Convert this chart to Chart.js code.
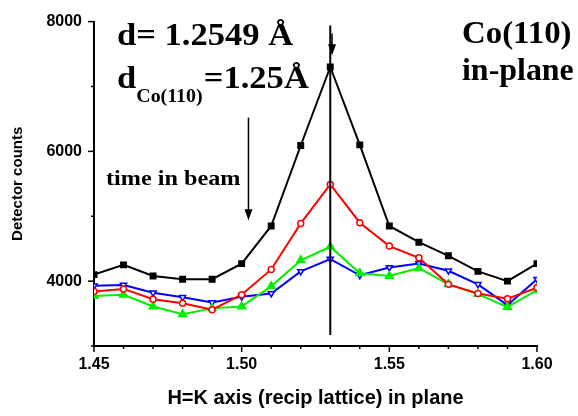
<!DOCTYPE html>
<html>
<head>
<meta charset="utf-8">
<script src="https://cdn.jsdelivr.net/npm/chart.js@4"></script>
<style>
  body { margin: 0; background: #fff; }
  #wrap { width: 578px; height: 416px; }
</style>
</head>
<body>
<div id="wrap"><canvas id="chartScan" width="578" height="416"></canvas></div>
<script>
// H=K positions (recip lattice units)
const hk = [1.45, 1.46, 1.47, 1.48, 1.49, 1.50, 1.51, 1.52, 1.53, 1.54, 1.55, 1.56, 1.57, 1.58, 1.59, 1.60];
// detector counts, one array per scan
const scanBlack = [4100, 4250, 4080, 4030, 4030, 4270, 4850, 6090, 7300, 6100, 4850, 4600, 4390, 4150, 4000, 4270];
const scanRed = [3840, 3880, 3720, 3660, 3560, 3790, 4180, 4890, 5490, 4900, 4540, 4360, 3950, 3810, 3730, 3900];
const scanGreen = [3770, 3790, 3610, 3490, 3580, 3610, 3920, 4320, 4530, 4120, 4080, 4200, 3950, 3800, 3600, 3860];
const scanBlue = [3930, 3940, 3820, 3750, 3670, 3760, 3810, 4150, 4340, 4090, 4210, 4270, 4160, 3950, 3630, 4030];
const yMajorTicks = [4000, 6000, 8000];
const xMajorTicks = [1.45, 1.50, 1.55, 1.60];
const peakPos = 1.53;

function toPoints(values) {
    return values.map((v, i) => ({ x: hk[i], y: v }));
}

Chart.defaults.font.family = '"Liberation Sans", Arial, sans-serif';
Chart.defaults.color = '#000';

// serif labels in the original are a bit wider than Times, stretch them a little
function wideText(ctx, text, x, y, font, sx) {
    ctx.save();
    ctx.font = font;
    ctx.translate(x, y);
    ctx.scale(sx, 1);
    ctx.fillText(text, 0, 0);
    const w = ctx.measureText(text).width * sx;
    ctx.restore();
    return w;
}

// axis ticks (major + minor) and the annotations
const extras = {
    id: 'extras',
    afterDraw(chart) {
        const ctx = chart.ctx;
        const xs = chart.scales.x;
        const ys = chart.scales.y;
        const area = chart.chartArea;
        ctx.save();
        ctx.strokeStyle = '#000';
        ctx.fillStyle = '#000';
        ctx.lineWidth = 1.5;
        // y ticks
        for (let v = 3000; v <= 8000; v += 1000) {
            const py = ys.getPixelForValue(v);
            const len = yMajorTicks.includes(v) ? 6 : 3;
            ctx.beginPath();
            ctx.moveTo(area.left, py);
            ctx.lineTo(area.left - len, py);
            ctx.stroke();
        }
        // x ticks
        for (let i = 0; i <= 15; i++) {
            const v = 1.45 + i * 0.01;
            const px = xs.getPixelForValue(v);
            const len = (i % 5 === 0) ? 6 : 3;
            ctx.beginPath();
            ctx.moveTo(px, area.bottom);
            ctx.lineTo(px, area.bottom + len);
            ctx.stroke();
        }
        // vertical line at the Co(110) position
        const lx = xs.getPixelForValue(peakPos);
        ctx.lineWidth = 2;
        ctx.beginPath();
        ctx.moveTo(lx, ys.getPixelForValue(7940));
        ctx.lineTo(lx, ys.getPixelForValue(3170));
        ctx.stroke();

        function arrow(xv, y1, y2) {
            const px = xs.getPixelForValue(xv);
            const p1 = ys.getPixelForValue(y1);
            const p2 = ys.getPixelForValue(y2);
            ctx.lineWidth = 1.5;
            ctx.beginPath();
            ctx.moveTo(px, p1);
            ctx.lineTo(px, p2 - 8);
            ctx.stroke();
            ctx.beginPath();
            ctx.moveTo(px - 4, p2 - 11);
            ctx.lineTo(px + 4, p2 - 11);
            ctx.lineTo(px, p2);
            ctx.closePath();
            ctx.fill();
        }
        arrow(1.5023, 6520, 4940);
        arrow(1.5306, 7815, 7480);

        // text
        ctx.textBaseline = 'alphabetic';
        const big = 'bold 32px "Liberation Serif"';
        wideText(ctx, 'd= 1.2549 Å', 117, 45, big, 1.08);
        let w = wideText(ctx, 'd', 117, 88, big, 1.08);
        w += wideText(ctx, 'Co(110)', 117 + w, 102, 'bold 19px "Liberation Serif"', 1.05);
        wideText(ctx, '=1.25Å', 117 + w + 1, 88, big, 1.08);

        wideText(ctx, 'Co(110)', 462, 43, 'bold 31px "Liberation Serif"', 1.06);
        wideText(ctx, 'in-plane', 462, 80, 'bold 31px "Liberation Serif"', 1.03);

        wideText(ctx, 'time in beam', 106, 185, 'bold 22px "Liberation Serif"', 1.1);
        ctx.restore();
    }
};

new Chart('chartScan', {
    type: 'line',
    data: {
        datasets: [{
            data: toPoints(scanBlack),
            borderColor: '#000',
            backgroundColor: '#000',
            pointStyle: 'rect',
            pointRadius: 3.5,
            borderWidth: 2
        }, {
            data: toPoints(scanRed),
            borderColor: '#ff0000',
            backgroundColor: '#fff',
            pointStyle: 'circle',
            pointRadius: 3,
            pointBorderWidth: 1.5,
            borderWidth: 2
        }, {
            data: toPoints(scanGreen),
            borderColor: '#00ee00',
            backgroundColor: '#00ee00',
            pointStyle: 'triangle',
            pointRadius: 4,
            borderWidth: 2
        }, {
            data: toPoints(scanBlue),
            borderColor: '#0000ff',
            backgroundColor: '#fff',
            pointStyle: 'triangle',
            pointRotation: 180,
            pointRadius: 3.5,
            pointBorderWidth: 1.5,
            borderWidth: 2
        }]
    },
    options: {
        responsive: false,
        animation: false,
        layout: { padding: { top: 21, right: 41, left: 0, bottom: 0 } },
        plugins: {
            legend: { display: false },
            tooltip: { enabled: false }
        },
        scales: {
            x: {
                type: 'linear',
                min: 1.45,
                max: 1.60,
                afterFit: scale => { scale.height = 70; },
                grid: { display: false, drawTicks: false },
                border: { display: true, color: '#000', width: 2 },
                ticks: {
                    stepSize: 0.05,
                    padding: 9,
                    font: { size: 16, weight: 'bold' },
                    callback: v => xMajorTicks.some(t => Math.abs(t - v) < 1e-6) ? v.toFixed(2) : ''
                },
                title: {
                    display: true,
                    text: 'H=K axis (recip lattice) in plane',
                    font: { size: 20, weight: 'bold' },
                    padding: { top: 0, bottom: 6 }
                }
            },
            y: {
                min: 3000,
                max: 8000,
                afterFit: scale => { scale.width = 94; },
                grid: { display: false, drawTicks: false },
                border: { display: true, color: '#000', width: 2 },
                ticks: {
                    stepSize: 1000,
                    padding: 12,
                    font: { size: 16, weight: 'bold' },
                    callback: v => yMajorTicks.includes(v) ? String(v) : ''
                },
                title: {
                    display: true,
                    text: 'Detector counts',
                    font: { size: 15, weight: 'bold' },
                    padding: { top: 9, bottom: 0 }
                }
            }
        }
    },
    plugins: [extras]
});
</script>
</body>
</html>
